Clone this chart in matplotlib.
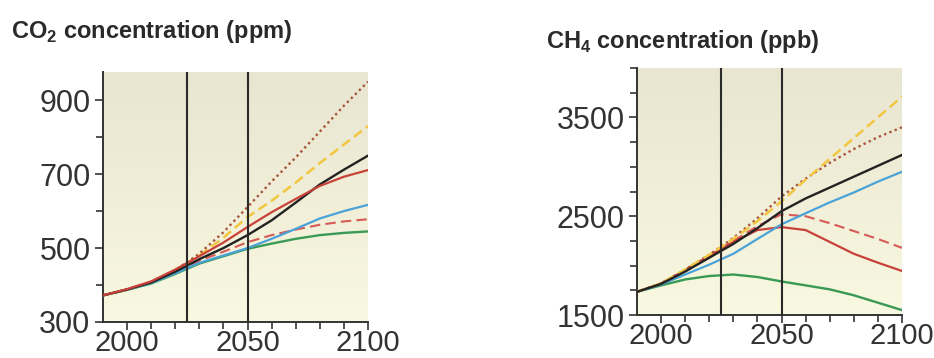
import numpy as np
import matplotlib
matplotlib.use('Agg')
import matplotlib.pyplot as plt
from matplotlib.colors import LinearSegmentedColormap

plt.rcParams['font.family'] = ['Liberation Sans', 'DejaVu Sans']
plt.rcParams['mathtext.fontset'] = 'custom'
plt.rcParams['mathtext.rm'] = 'Liberation Sans'
plt.rcParams['mathtext.bf'] = 'Liberation Sans:bold'

# Data
years = [1990, 2000, 2010, 2020, 2030, 2040, 2050, 2060, 2070, 2080, 2090, 2100]

co2_dotted = [372, 388, 408, 440, 485, 543, 611, 680, 745, 815, 885, 950]
co2_yellow = [372, 388, 408, 439, 480, 528, 584, 628, 677, 730, 780, 830]
co2_red = [372, 389, 410, 442, 478, 515, 557, 597, 633, 668, 693, 711]
co2_black = [372, 388, 407, 436, 470, 500, 535, 575, 623, 672, 712, 750]
co2_red_dash = [372, 388, 407, 436, 466, 490, 516, 535, 550, 563, 572, 578]
co2_blue = [372, 387, 405, 432, 460, 480, 500, 525, 552, 580, 600, 617]
co2_green = [372, 387, 404, 430, 458, 478, 498, 512, 525, 535, 541, 545]

ch4_yellow = [1735, 1820, 1960, 2110, 2270, 2450, 2650, 2870, 3080, 3290, 3500, 3710]
ch4_dotted = [1735, 1820, 1960, 2110, 2280, 2480, 2700, 2880, 3040, 3180, 3300, 3400]
ch4_black = [1735, 1815, 1940, 2080, 2220, 2380, 2551, 2680, 2790, 2900, 3010, 3120]
ch4_blue = [1735, 1810, 1910, 2010, 2120, 2270, 2418, 2530, 2640, 2740, 2850, 2950]
ch4_red_dash = [1735, 1820, 1955, 2100, 2250, 2400, 2520, 2500, 2430, 2350, 2270, 2180]
ch4_red = [1735, 1820, 1955, 2100, 2240, 2360, 2390, 2360, 2240, 2120, 2030, 1946]
ch4_green = [1735, 1800, 1860, 1895, 1910, 1885, 1840, 1800, 1760, 1700, 1625, 1550]

markers_years = [2025, 2050]

# style per series: (color, linestyle, linewidth)
styles = {
    'dotted': ('#a8553a', (0, (1, 1.4)), 1.7),
    'yellow': ('#f2c640', (0, (4, 2)), 1.8),
    'black': ('#222222', '-', 1.7),
    'red': ('#c8413a', '-', 1.6),
    'red_dash': ('#d65a55', (0, (5, 2.5)), 1.5),
    'blue': ('#4aa3d8', '-', 1.6),
    'green': ('#3a9a55', '-', 1.7),
}

bg_cmap = LinearSegmentedColormap.from_list('bg', ['#f9f8e0', '#e8e5d0'])

fig = plt.figure(figsize=(9.34, 3.58), dpi=100)


def panel(rect, ylim, major, minor, series, order):
    ax = fig.add_axes(rect)
    grad = np.linspace(0, 1, 256).reshape(-1, 1)
    ax.imshow(grad, aspect='auto', cmap=bg_cmap, origin='lower',
              extent=[1990, 2100, ylim[0], ylim[1]], zorder=0)
    for key in order:
        c, ls, lw = styles[key]
        ax.plot(years, series[key], color=c, linestyle=ls, linewidth=lw, zorder=3)
    for yr in markers_years:
        ax.axvline(yr, color='#2a2a2a', linewidth=1.5, zorder=4)
    ax.set_xlim(1990, 2100)
    ax.set_ylim(*ylim)
    ax.set_xticks([2000, 2050, 2100])
    ax.set_xticks(np.arange(2000, 2101, 10), minor=True)
    ax.set_yticks(major)
    ax.set_yticks(minor, minor=True)
    for s in ['top', 'right']:
        ax.spines[s].set_visible(False)
    for s in ['left', 'bottom']:
        ax.spines[s].set_color('#333333')
        ax.spines[s].set_linewidth(1.4)
    ax.tick_params(which='both', direction='out', color='#333333', width=1.2,
                   labelcolor='#333333')
    ax.tick_params(axis='y', labelsize=22, pad=3)
    ax.tick_params(axis='x', labelsize=21, pad=-1)
    ax.tick_params(which='major', length=6)
    ax.tick_params(which='minor', length=5)
    return ax


co2 = {'dotted': co2_dotted, 'yellow': co2_yellow, 'red': co2_red,
       'black': co2_black, 'red_dash': co2_red_dash, 'blue': co2_blue,
       'green': co2_green}
ch4 = {'dotted': ch4_dotted, 'yellow': ch4_yellow, 'red': ch4_red,
       'black': ch4_black, 'red_dash': ch4_red_dash, 'blue': ch4_blue,
       'green': ch4_green}

ax1 = panel([0.1103, 0.1006, 0.2837, 0.698], (300, 976),
            [300, 500, 700, 900], np.arange(300, 1000, 100), co2,
            ['green', 'red_dash', 'blue', 'yellow', 'dotted', 'black', 'red'])
ax2 = panel([0.682, 0.120, 0.2837, 0.690], (1500, 4000),
            [1500, 2500, 3500], np.arange(1500, 4001, 250), ch4,
            ['green', 'red_dash', 'red', 'blue', 'dotted', 'yellow', 'black'])

fig.text(0.012, 0.912, r'CO$_\mathbf{2}$ concentration (ppm)', fontsize=17,
         fontweight='bold', color='#2a2a2a', va='center')
fig.text(0.585, 0.885, r'CH$_\mathbf{4}$ concentration (ppb)', fontsize=17,
         fontweight='bold', color='#2a2a2a', va='center')

fig.savefig('out.png', dpi=100, facecolor='white')
